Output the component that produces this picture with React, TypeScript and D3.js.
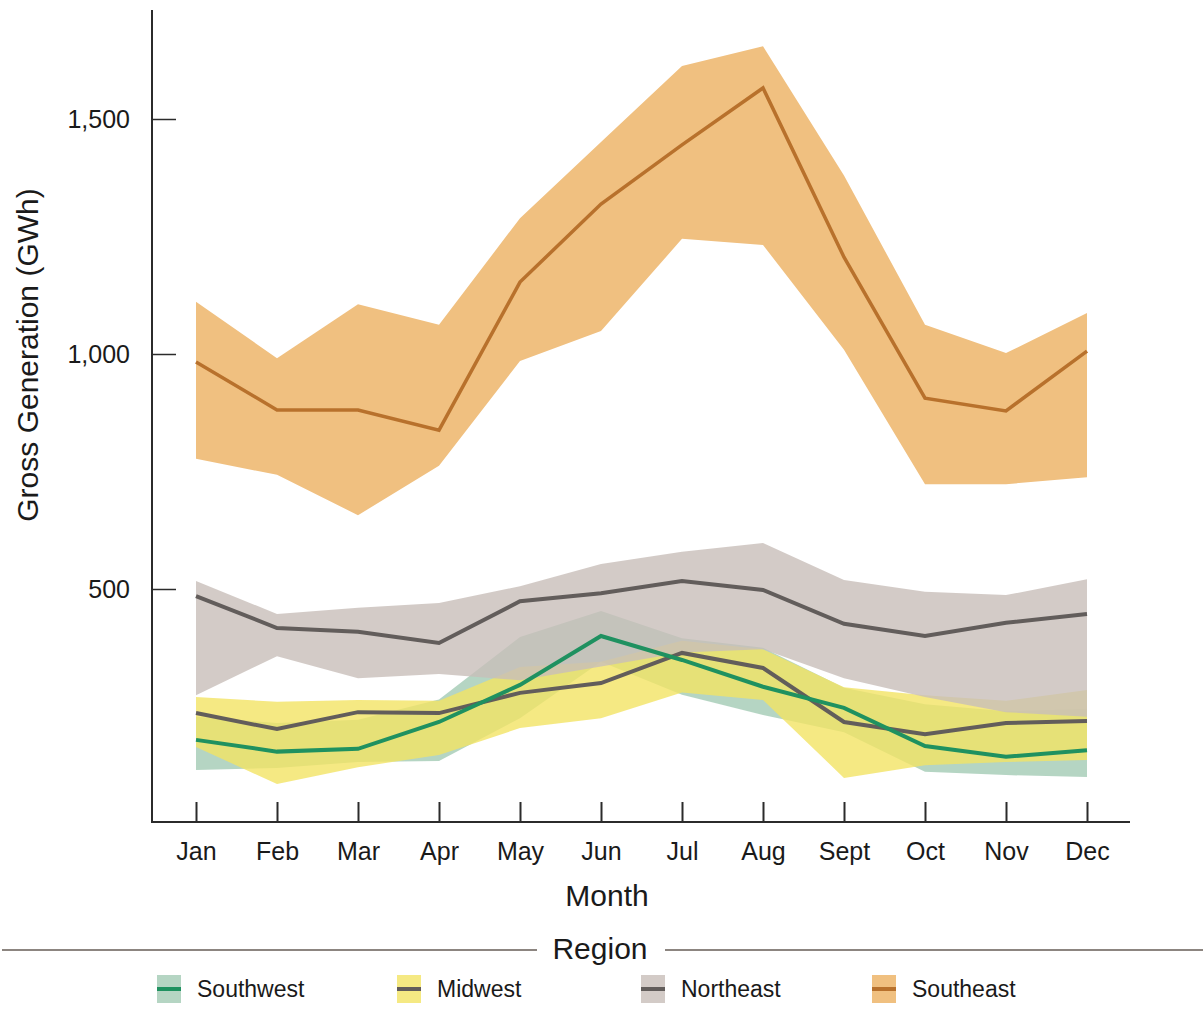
import React, { useEffect, useRef } from "react";
import * as d3 from "d3";

const months = ["Jan", "Feb", "Mar", "Apr", "May", "Jun", "Jul", "Aug", "Sept", "Oct", "Nov", "Dec"];
const yTicks = [500, 1000, 1500];

const southeastMean = [983, 881, 881, 838, 1153, 1319, 1445, 1566, 1206, 906, 879, 1006];
const southeastHigh = [1111, 991, 1106, 1062, 1289, 1451, 1613, 1655, 1380, 1062, 1002, 1087];
const southeastLow = [777, 743, 657, 762, 985, 1049, 1245, 1232, 1009, 723, 723, 738];

const northeastMean = [485, 417, 409, 385, 474, 491, 517, 498, 426, 400, 428, 447];
const northeastHigh = [517, 447, 460, 470, 506, 553, 579, 598, 519, 494, 487, 521];
const northeastLow = [274, 357, 310, 319, 306, 335, 365, 372, 310, 270, 238, 228];

const midwestMean = [236, 202, 238, 236, 279, 300, 364, 332, 217, 191, 215, 219];
const midwestHigh = [270, 260, 264, 262, 334, 345, 390, 372, 291, 274, 262, 285];
const midwestLow = [164, 85, 121, 147, 204, 225, 280, 264, 98, 125, 132, 136];

const southwestMean = [179, 154, 160, 217, 296, 400, 349, 292, 247, 166, 143, 157];
const southwestHigh = [228, 215, 222, 265, 398, 453, 395, 375, 290, 255, 240, 245];
const southwestLow = [115, 119, 132, 134, 225, 345, 275, 232, 195, 111, 104, 100];

const regions = [
    { name: "Southwest", mean: southwestMean, high: southwestHigh, low: southwestLow, fill: "#96c3aa", fillOpacity: 0.7, line: "#1f9160" },
    { name: "Midwest", mean: midwestMean, high: midwestHigh, low: midwestLow, fill: "#f2e464", fillOpacity: 0.8, line: "#625d5b" },
    { name: "Northeast", mean: northeastMean, high: northeastHigh, low: northeastLow, fill: "#c8beb9", fillOpacity: 0.8, line: "#625d5b" },
    { name: "Southeast", mean: southeastMean, high: southeastHigh, low: southeastLow, fill: "#f0c080", fillOpacity: 1, line: "#b8712c" },
];

const FONT = "'Liberation Sans', Arial, sans-serif";

const App: React.FC = () => {
    const svgRef = useRef<SVGSVGElement>(null);
    const width = 1203;
    const height = 1026;

    useEffect(() => {
        if (!svgRef.current) return;
        const svg = d3.select(svgRef.current);
        svg.selectAll("*").remove();

        const x = d3.scalePoint<string>().domain(months).range([196, 1087]);
        const y = d3.scaleLinear().domain([0, 1500]).range([824, 119]);

        // bands: drawn back to front
        const drawOrder = ["Southeast", "Southwest", "Midwest", "Northeast"];
        drawOrder.forEach((name) => {
            const r = regions.find((d) => d.name === name)!;
            const band = d3
                .area<number>()
                .x((_, i) => x(months[i]) as number)
                .y0((_, i) => y(r.low[i]))
                .y1((d) => y(d));
            svg.append("path")
                .attr("d", band(r.high) as string)
                .attr("fill", r.fill)
                .attr("fill-opacity", r.fillOpacity);
        });

        const line = d3
            .line<number>()
            .x((_, i) => x(months[i]) as number)
            .y((d) => y(d));

        ["Southeast", "Northeast", "Midwest", "Southwest"].forEach((name) => {
            const r = regions.find((d) => d.name === name)!;
            svg.append("path")
                .attr("d", line(r.mean) as string)
                .attr("fill", "none")
                .attr("stroke", r.line)
                .attr("stroke-width", name === "Southeast" ? 3.5 : 4)
                .attr("stroke-linejoin", "miter");
        });

        // axes lines
        svg.append("line")
            .attr("x1", 152).attr("x2", 152)
            .attr("y1", 10).attr("y2", 823)
            .attr("stroke", "#2b2b2b").attr("stroke-width", 2);
        svg.append("line")
            .attr("x1", 151).attr("x2", 1130)
            .attr("y1", 822).attr("y2", 822)
            .attr("stroke", "#2b2b2b").attr("stroke-width", 2);

        // y axis ticks
        const yAxis = d3.axisLeft(y).tickValues(yTicks).tickSize(-24).tickPadding(22)
            .tickFormat((d) => d3.format(",")(d as number));
        const gy = svg.append("g").attr("transform", "translate(152,0)").call(yAxis);
        gy.select(".domain").remove();
        gy.selectAll("line").attr("stroke", "#2b2b2b").attr("stroke-width", 1.5);
        gy.selectAll("text")
            .attr("font-family", FONT)
            .attr("font-size", 25)
            .attr("fill", "#1a1a1a");

        // x axis ticks
        const xAxis = d3.axisBottom(x).tickSize(-20).tickPadding(20);
        const gx = svg.append("g").attr("transform", "translate(0,822)").call(xAxis);
        gx.select(".domain").remove();
        gx.selectAll("line").attr("stroke", "#2b2b2b").attr("stroke-width", 2);
        gx.selectAll("text")
            .attr("font-family", FONT)
            .attr("font-size", 25)
            .attr("fill", "#1a1a1a");

        // axis titles
        svg.append("text")
            .attr("x", 607)
            .attr("y", 906)
            .attr("text-anchor", "middle")
            .attr("font-family", FONT)
            .attr("font-size", 30)
            .attr("fill", "#1a1a1a")
            .text("Month");

        svg.append("text")
            .attr("transform", "translate(38,355) rotate(-90)")
            .attr("text-anchor", "middle")
            .attr("font-family", FONT)
            .attr("font-size", 30)
            .attr("fill", "#1a1a1a")
            .text("Gross Generation (GWh)");

        // legend
        svg.append("line")
            .attr("x1", 2).attr("x2", 537)
            .attr("y1", 950).attr("y2", 950)
            .attr("stroke", "#8c8580").attr("stroke-width", 2);
        svg.append("line")
            .attr("x1", 665).attr("x2", 1203)
            .attr("y1", 950).attr("y2", 950)
            .attr("stroke", "#8c8580").attr("stroke-width", 2);
        svg.append("text")
            .attr("x", 600)
            .attr("y", 959)
            .attr("text-anchor", "middle")
            .attr("font-family", FONT)
            .attr("font-size", 30)
            .attr("fill", "#1a1a1a")
            .text("Region");

        const legendX = [157, 397, 641, 872];
        regions.forEach((r, i) => {
            const g = svg.append("g").attr("transform", `translate(${legendX[i]},975)`);
            g.append("rect")
                .attr("width", 24)
                .attr("height", 28)
                .attr("fill", r.fill)
                .attr("fill-opacity", r.fillOpacity);
            g.append("line")
                .attr("x1", 0).attr("x2", 24)
                .attr("y1", 14).attr("y2", 14)
                .attr("stroke", r.line)
                .attr("stroke-width", 4);
            g.append("text")
                .attr("x", 40)
                .attr("y", 22)
                .attr("font-family", FONT)
                .attr("font-size", 23)
                .attr("fill", "#1a1a1a")
                .text(r.name);
        });
    }, []);

    return (
        <div style={{ position: "absolute", left: 0, top: 0, background: "#fff" }}>
            <svg ref={svgRef} width={width} height={height} style={{ display: "block" }} />
        </div>
    );
};

export default App;
